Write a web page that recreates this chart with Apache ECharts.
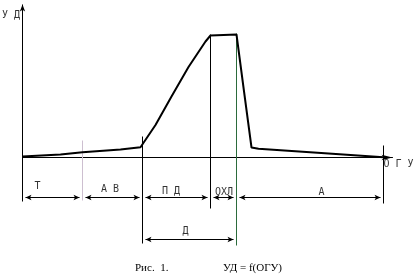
<!DOCTYPE html>
<html><head><meta charset="utf-8">
<script src="https://cdn.jsdelivr.net/npm/echarts@6/dist/echarts.min.js"></script>
<style>html,body{margin:0;padding:0;background:#fff}#c{width:415px;height:279px}</style>
</head><body><div id="c"></div>
<script>
// ---- data ----
const curveX = [0, 38, 60, 98, 118, 120, 133, 149, 166, 176, 183, 188, 214, 221, 229, 236, 295, 361];
const curveY = [1, 3, 5.3, 8, 10.3, 11, 32.5, 61, 90.5, 105.5, 116, 122, 123, 70, 10, 8.7, 4.7, 0.3];
const boundaries = [0, 60, 120, 188, 214, 361];
const segmentNames = ['Т', 'А В', 'П Д', 'ОХЛ', 'А'];
const spanName = 'Д';
const spanFrom = 2, spanTo = 4;
const extTop = [17, 21, 123, 124, 12];
const extBottom = [-43, -86, -51, -88, -46];
const yAxisName = 'У Д';
const xAxisName = 'О Г У';
const captionLeft = 'Рис.  1.';
const captionRight = 'УД = f(ОГУ)';

// ---- layout / style ----
const X_MAX = 370, Y_MIN = -88, Y_MAX = 156;
const Y_AXIS_BOTTOM = -44, Y_AXIS_TOP = 153;
const DIM_ROW = -40, SPAN_ROW = -82;
const ARROW = [4, 6];
const extColors = ['#cdbfd0', '#000', '#000', '#2b6b3b', '#000'];
const segOffsets = [[-15, -11], [-2.5, -8], [-5.5, -6], [0.5, -5.5], [11.5, -5]];
const spanOffset = [-4, -8];
const yNameOffset = [-11.5, 13.5];
const xNameOffset = [6, 6.5];
const FONT = 'DejaVu Sans Mono';

const inset = ARROW[1] / 2;
function dimLine(x1, x2, y) {
  return [
    {coord: [x1 + inset, y], symbol: 'arrow', symbolSize: ARROW},
    {coord: [x2 - inset, y], symbol: 'arrow', symbolSize: ARROW}
  ];
}

const markData = [];
// y axis with arrow
markData.push([{coord: [0, Y_AXIS_BOTTOM], symbol: 'none'}, {coord: [0, Y_AXIS_TOP], symbol: 'arrow', symbolSize: [4, 7]}]);
// extension lines
for (let i = 1; i < boundaries.length; i++) {
  markData.push([
    {coord: [boundaries[i], extBottom[i - 1]], lineStyle: {color: extColors[i - 1]}},
    {coord: [boundaries[i], extTop[i - 1]]}
  ]);
}
// dimension lines
for (let i = 0; i < segmentNames.length; i++) {
  markData.push(dimLine(boundaries[i], boundaries[i + 1], DIM_ROW));
}
markData.push(dimLine(boundaries[spanFrom], boundaries[spanTo], SPAN_ROW));

// labels
const labelData = [];
for (let i = 0; i < segmentNames.length; i++) {
  labelData.push({value: [(boundaries[i] + boundaries[i + 1]) / 2, DIM_ROW], name: segmentNames[i], label: {offset: segOffsets[i]}});
}
labelData.push({value: [(boundaries[spanFrom] + boundaries[spanTo]) / 2, SPAN_ROW], name: spanName, label: {offset: spanOffset}});
labelData.push({value: [0, Y_MAX], name: yAxisName, label: {offset: yNameOffset}});
labelData.push({value: [X_MAX, 0], name: xAxisName, label: {offset: xNameOffset}});

const chart = echarts.init(document.getElementById('c'), null, {renderer: 'canvas'});
const capStyle = {fontFamily: 'Liberation Serif', fontSize: 11, fontWeight: 'normal', color: '#000'};
chart.setOption({
  animation: false,
  backgroundColor: '#fff',
  title: [
    {text: captionLeft, left: 135, top: 263, padding: 0, textStyle: capStyle},
    {text: captionRight, left: 223, top: 263, padding: 0, textStyle: capStyle}
  ],
  grid: {left: 22.5, top: 1.5, width: X_MAX, height: Y_MAX - Y_MIN, containLabel: false},
  xAxis: {
    type: 'value', min: 0, max: X_MAX,
    axisLine: {show: true, onZero: true, symbol: ['none', 'arrow'], symbolSize: [4, 11], lineStyle: {color: '#000', width: 1}},
    axisTick: {show: false}, axisLabel: {show: false}, splitLine: {show: false}
  },
  yAxis: {
    type: 'value', min: Y_MIN, max: Y_MAX,
    axisLine: {show: false}, axisTick: {show: false}, axisLabel: {show: false}, splitLine: {show: false}
  },
  series: [
    {
      type: 'line',
      data: curveX.map((x, i) => [x, curveY[i]]),
      symbol: 'none',
      lineStyle: {color: '#000', width: 2},
      z: 5,
      silent: true,
      markLine: {
        silent: true,
        animation: false,
        symbol: ['none', 'none'],
        label: {show: false},
        lineStyle: {color: '#000', width: 1, type: 'solid'},
        itemStyle: {color: '#000'},
        emphasis: {disabled: true},
        data: markData
      }
    },
    {
      type: 'scatter',
      data: labelData,
      symbolSize: 1,
      itemStyle: {color: 'rgba(0,0,0,0)'},
      silent: true,
      z: 6,
      label: {
        show: true,
        position: 'inside',
        formatter: p => p.name,
        fontFamily: FONT,
        fontSize: 10,
        color: '#000',
        align: 'center',
        verticalAlign: 'middle'
      }
    }
  ]
});
</script></body></html>
